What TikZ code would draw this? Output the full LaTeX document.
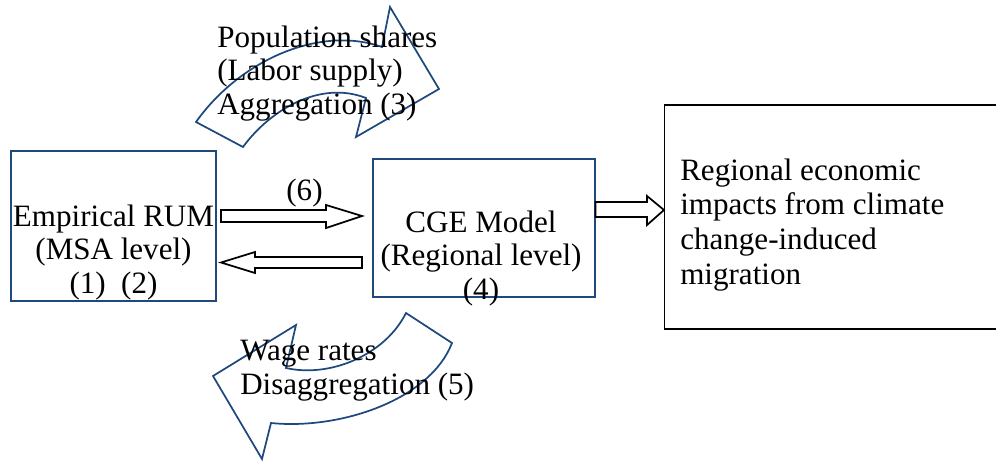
\documentclass[tikz,border=0pt]{standalone}
\usepackage{fontspec}
\setmainfont{Liberation Serif}
\definecolor{myblue}{RGB}{31,73,125}
\begin{document}
\begin{tikzpicture}[x=0.75pt,y=-0.75pt,
  bluebox/.style={draw=myblue, line width=1.4pt, inner sep=0pt},
  blackbox/.style={draw=black, line width=1.2pt, inner sep=0pt},
  lbl/.style={font=\fontsize{23.3}{25}\selectfont, inner sep=0pt},
  curvarrow/.style={draw=myblue, line width=1.3pt, line join=miter},
  blockarrow/.style={draw=black, line width=1.3pt, fill=white, line join=miter}]
\useasboundingbox (0,0) rectangle (996,464);
\clip (0,0) rectangle (996,464);
% boxes
\node[bluebox, minimum width=153.75pt, minimum height=112.5pt] (rum) at (113.5,226) {};
\node[bluebox, minimum width=166.5pt, minimum height=103.5pt] (cge) at (484,228) {};
\node[blackbox, minimum width=251.25pt, minimum height=168pt] (imp) at (832,217) {};
% box texts (base anchor = baseline of the last line)
\node[lbl, anchor=base, align=center] (rumtxt) at (113.5,293) {Empirical RUM\\(MSA level)\\(1)\ \ (2)};
\node[lbl, anchor=base, align=center] (cgetxt) at (481,299) {CGE Model\\(Regional level)\\(4)};
\node[lbl, font=\fontsize{23.3}{26}\selectfont, anchor=base west, align=left] (imptxt) at (680,284) {Regional economic\\impacts from climate\\change-induced\\migration};
% block arrows
\draw[blockarrow] (221,210) -- (326,210) -- (326,205) -- (362,216) -- (326,228) -- (326,222) -- (221,222) -- cycle;
\node[lbl, anchor=base] (six) at (304.5,200) {(6)};
\draw[blockarrow] (362,257) -- (255,257) -- (255,252) -- (221,262.5) -- (255,273) -- (255,268) -- (362,268) -- cycle;
\draw[blockarrow] (595.5,202) -- (647,202) -- (647,196) -- (664,210) -- (647,225) -- (647,217) -- (595.5,217) -- cycle;
% curved arrows
\draw[curvarrow] (196,122) .. controls (240,60) and (320,25) .. (382,47)
  -- (390,7) -- (439,89) -- (356,137) -- (366,98)
  .. controls (320,80) and (270,110) .. (243,147) -- cycle;
\node[lbl, anchor=base west, align=left] (uptxt) at (217,114) {Population shares\\(Labor supply)\\Aggregation (3)};
\draw[curvarrow] (406,313) .. controls (385,355) and (330,378) .. (286,368)
  -- (296,325) -- (213,376) -- (262,459) -- (271,423)
  .. controls (340,430) and (430,400) .. (452,343) -- cycle;
\node[lbl, anchor=base west, align=left] (downtxt) at (240,394) {Wage rates\\Disaggregation (5)};
\end{tikzpicture}
\end{document}
